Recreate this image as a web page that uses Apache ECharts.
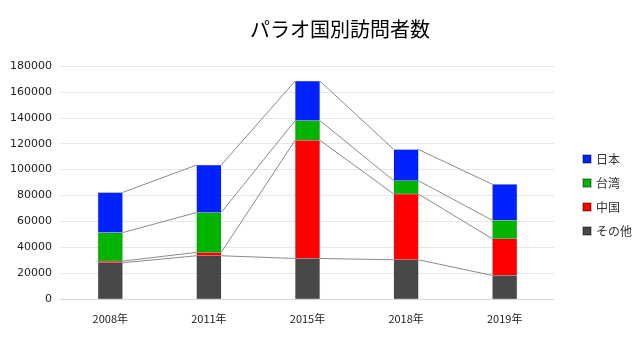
<!DOCTYPE html>
<html><head><meta charset="utf-8">
<script src="https://cdn.jsdelivr.net/npm/echarts@6/dist/echarts.min.js"></script>
<style>html,body{margin:0;padding:0;background:#fff}#c{width:640px;height:337px}</style>
</head><body><div id="c"></div>
<script>
const categories = ['2008年','2011年','2015年','2018年','2019年'];
const other  = [28000, 33400, 31300, 30300, 18200];
const china  = [1300, 2600, 91400, 50800, 28300];
const taiwan = [22000, 30800, 15200, 10300, 14300];
const japan  = [31000, 36700, 30500, 24100, 27800];
const yTicks = [0,20000,40000,60000,80000,100000,120000,140000,160000,180000];

const seriesNames = ['その他','中国','台湾','日本'];
const seriesData = [other, china, taiwan, japan];
const colors = ['#484848','#ff0000','#00b400','#0022ff'];

const cum = categories.map((c,i)=>{
  let s=0; return seriesData.map(a=>{ s+=a[i]; return s; });
});
const lineData = categories.slice(0,-1).map((c,i)=>[i].concat(cum[i]).concat(cum[i+1]));

const chart = echarts.init(document.getElementById('c'));
const FONT = '"Noto Sans CJK JP", "Noto Sans", sans-serif';
const series = seriesNames.map((n,k)=>({
  name:n, type:'bar', stack:'t', barWidth:'25%', data:seriesData[k],
  itemStyle:{color:colors[k], borderColor:'rgba(0,0,0,0.25)', borderWidth:0.5}
}));
series.push({
  type:'custom', silent:true, data:lineData, z:1,
  encode:{x:0,y:1},
  renderItem:function(params, api){
    const i = api.value(0);
    const bw = api.size([1,0])[0]*0.25;
    const children=[];
    for(let k=0;k<4;k++){
      const p1 = api.coord([i, api.value(1+k)]);
      const p2 = api.coord([i+1, api.value(5+k)]);
      children.push({type:'line', shape:{x1:p1[0]+bw/2, y1:p1[1], x2:p2[0]-bw/2, y2:p2[1]},
        style:{stroke:'#8a8a8a', lineWidth:1}});
    }
    return {type:'group', children};
  }
});
chart.setOption({
  animation:false,
  title:{text:'パラオ国別訪問者数', left:335, textAlign:'center', top:14,
    textStyle:{fontFamily:FONT, fontSize:20, fontWeight:'normal', color:'#000'}},
  legend:{orient:'vertical', left:577, top:148, itemWidth:8, itemHeight:8, itemGap:12,
    icon:'rect', data:['日本','台湾','中国','その他'],
    textStyle:{fontFamily:FONT, fontSize:12, color:'#333'}},
  grid:{left:61, right:86, top:66, bottom:38},
  xAxis:{type:'category', data:categories,
    axisLine:{lineStyle:{color:'#d9d9d9'}}, axisTick:{show:false},
    axisLabel:{color:'#222', fontSize:11, fontFamily:FONT, margin:14}},
  yAxis:{type:'value', min:yTicks[0], max:yTicks[yTicks.length-1], interval:20000,
    axisLine:{show:false}, axisTick:{show:false},
    splitLine:{lineStyle:{color:'#e6e6e6'}},
    axisLabel:{color:'#222', fontSize:11, fontFamily:'"DejaVu Sans", sans-serif', margin:9,
      formatter:v=>String(v)}},
  series
});
</script></body></html>
